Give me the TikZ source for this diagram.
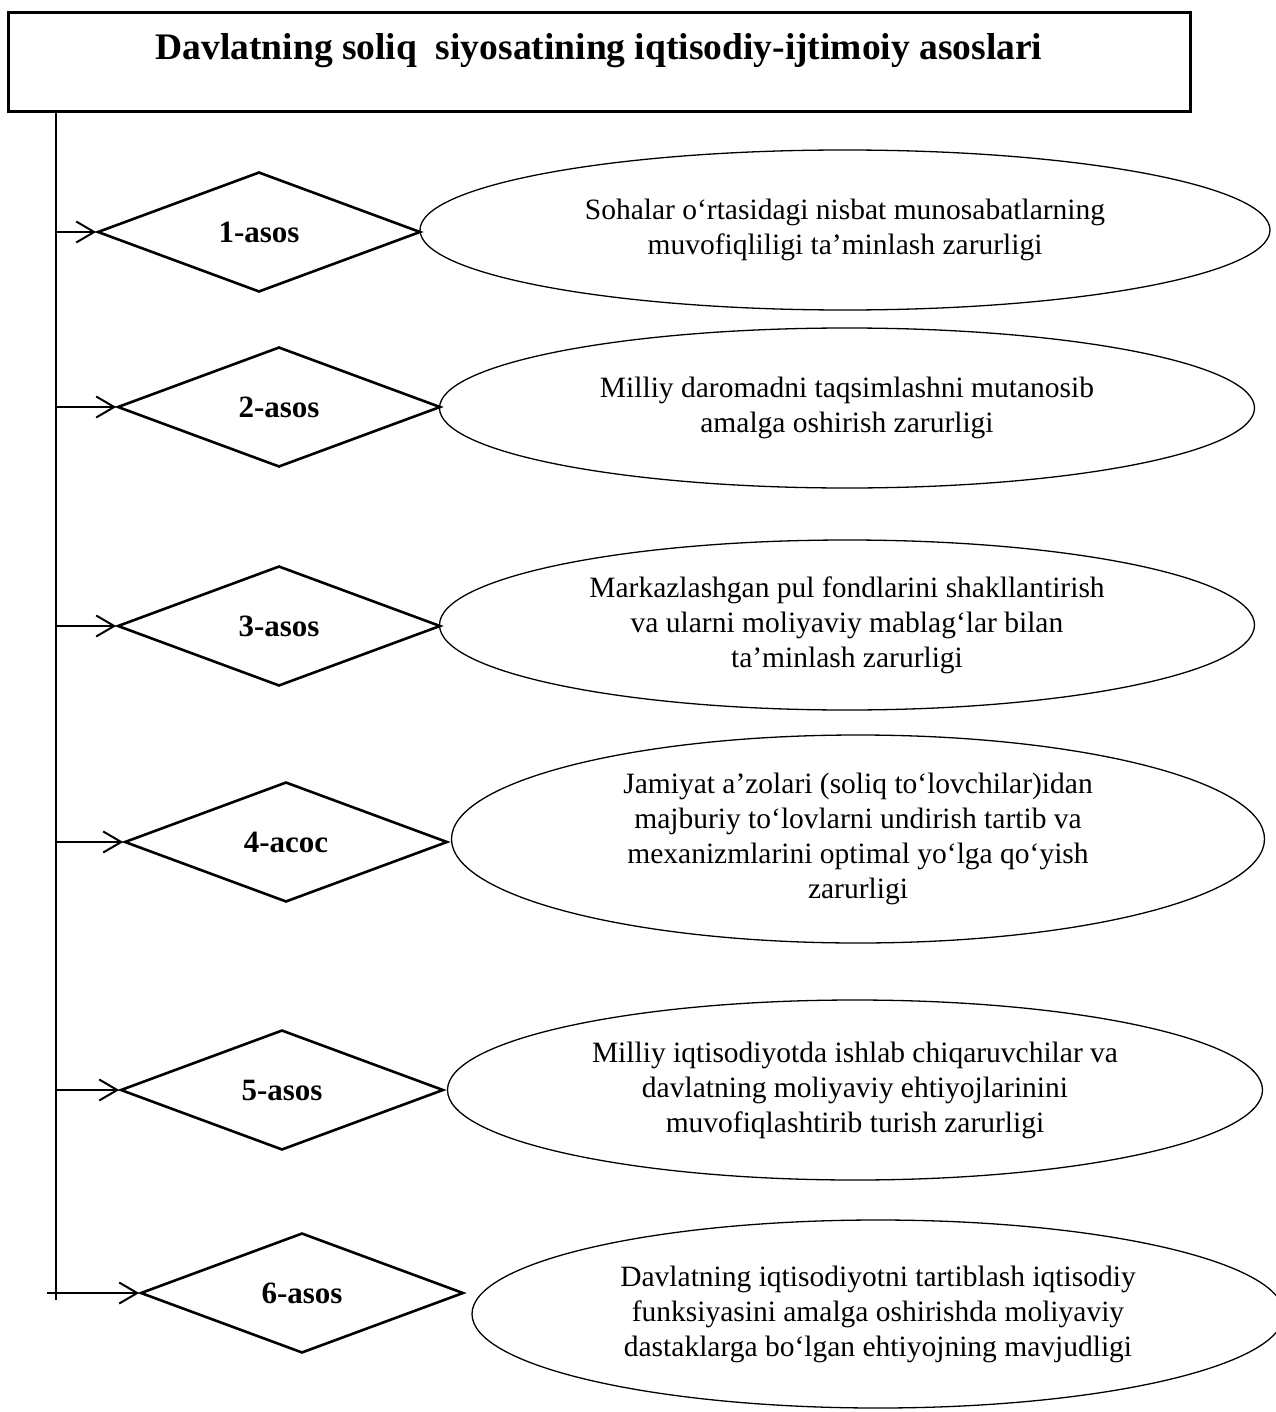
\documentclass[tikz,border=0pt]{standalone}
\usepackage{fontspec}
\setmainfont{Liberation Serif}
\usetikzlibrary{shapes, arrows.meta, positioning}

\tikzset{
  basis/.style={diamond, draw, line width=2.6pt, minimum width=323pt, minimum height=120pt,
    inner sep=0pt, font=\fontsize{31}{36}\selectfont\bfseries},
  need/.style={ellipse, draw, line width=1.3pt, inner sep=0pt, align=center,
    font=\fontsize{29.5}{35}\selectfont},
}

\begin{document}
\begin{tikzpicture}[>={Straight Barb[length=18pt, width=21pt]}, x=1pt, y=-1pt]
\useasboundingbox (0,0) rectangle (1275,1412);
\node[draw, line width=3pt, minimum width=1182pt, minimum height=99pt, inner sep=0pt,
  text height=26pt, text depth=31pt, font=\fontsize{37.5}{42}\selectfont\bfseries]
  (head) at (599,62.5) {Davlatning soliq\ \ siyosatining iqtisodiy-ijtimoiy asoslari};
%
\node[basis] (d1) at (259,232) {1-asos};
\node[basis] (d2) at (279,407) {2-asos};
\node[basis] (d3) at (279,626) {3-asos};
\node[basis] (d4) at (286,842) {4-acoc};
\node[basis] (d5) at (282,1090) {5-asos};
\node[basis] (d6) at (302,1293) {6-asos};
%
\node[need, minimum width=850pt, minimum height=160pt] (e1) at (845,230)
  {Sohalar o‘rtasidagi nisbat munosabatlarning\\ muvofiqliligi ta’minlash zarurligi};
\node[need, minimum width=815pt, minimum height=160pt] (e2) at (847,408)
  {Milliy daromadni taqsimlashni mutanosib\\ amalga oshirish zarurligi};
\node[need, minimum width=815pt, minimum height=170pt] (e3) at (847,625)
  {Markazlashgan pul fondlarini shakllantirish\\ va ularni moliyaviy mablag‘lar bilan\\ ta’minlash zarurligi};
\node[need, minimum width=813pt, minimum height=208pt] (e4) at (858,839)
  {Jamiyat a’zolari (soliq to‘lovchilar)idan\\ majburiy to‘lovlarni undirish tartib va\\ mexanizmlarini optimal yo‘lga qo‘yish\\ zarurligi};
\node[need, minimum width=815pt, minimum height=180pt] (e5) at (855,1090)
  {Milliy iqtisodiyotda ishlab chiqaruvchilar va\\ davlatning moliyaviy ehtiyojlarinini\\ muvofiqlashtirib turish zarurligi};
\node[need, minimum width=812pt, minimum height=188pt] (e6) at (878,1314)
  {Davlatning iqtisodiyotni tartiblash iqtisodiy\\ funksiyasini amalga oshirishda moliyaviy\\ dastaklarga bo‘lgan ehtiyojning mavjudligi};
%
\coordinate (trunk top) at (56,113);
\coordinate (trunk end) at (56,1300);
\coordinate (a6) at (47,1293);
\draw[line width=1.5pt] (trunk top) -- (trunk end);
\draw[->, line width=2pt] (d1.west -| trunk top) -- (d1.west);
\draw[->, line width=2pt] (d2.west -| trunk top) -- (d2.west);
\draw[->, line width=2pt] (d3.west -| trunk top) -- (d3.west);
\draw[->, line width=2pt] (d4.west -| trunk top) -- (d4.west);
\draw[->, line width=2pt] (d5.west -| trunk top) -- (d5.west);
\draw[->, line width=2pt] (a6) -- (d6.west);
\end{tikzpicture}
\end{document}
